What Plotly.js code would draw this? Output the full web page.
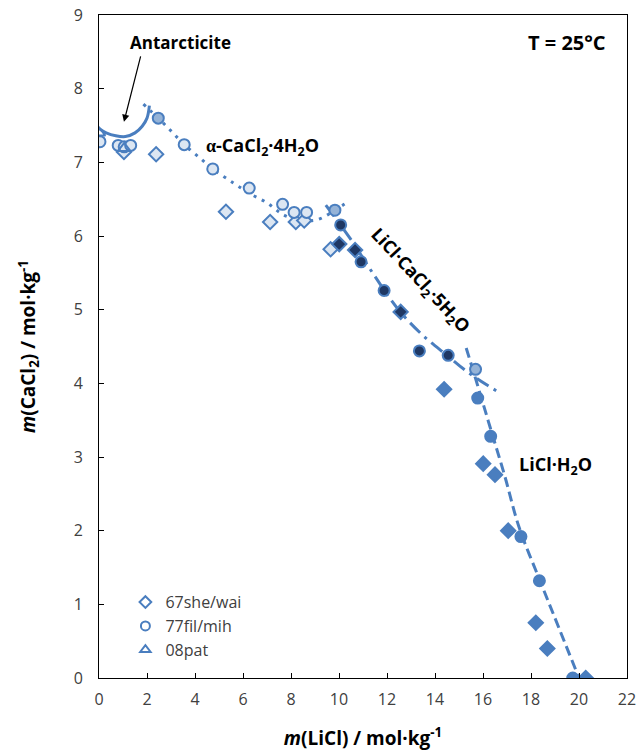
<!DOCTYPE html>
<html>
<head>
<meta charset="utf-8">
<script src="https://cdn.plot.ly/plotly-3.0.1.min.js"></script>
<style>html,body{margin:0;padding:0;background:#fff;}#chart{width:636px;height:751px;}</style>
</head>
<body>
<div id="chart"></div>
<script>
// ---- Data ----
// 67she/wai (diamonds)
const sheOpenX  = [1.04, 2.38, 5.29, 7.13, 8.2, 8.55, 9.65];
const sheOpenY  = [7.14, 7.11, 6.33, 6.19, 6.19, 6.21, 5.82];
const sheDarkX  = [10.01, 10.67, 12.57];
const sheDarkY  = [5.89, 5.81, 4.97];
const sheSolidX = [14.38, 16.01, 16.5, 17.05, 18.2, 18.68, 20.28];
const sheSolidY = [3.92, 2.91, 2.76, 2.0, 0.75, 0.40, 0.0];
// 77fil/mih (circles)
const filOpenX  = [0.04, 0.8, 1.05, 1.32, 3.55, 4.74, 6.26, 7.65, 8.13, 8.65];
const filOpenY  = [7.28, 7.23, 7.21, 7.23, 7.24, 6.91, 6.65, 6.43, 6.32, 6.32];
const filMidX   = [2.47, 9.83, 15.69];
const filMidY   = [7.60, 6.35, 4.19];
const filDarkX  = [10.07, 10.92, 11.88, 13.35, 14.55];
const filDarkY  = [6.15, 5.65, 5.26, 4.44, 4.38];
const filSolidX = [15.78, 16.32, 17.58, 18.35, 19.74];
const filSolidY = [3.80, 3.28, 1.92, 1.32, 0.0];
// 08pat (triangles)
const patX = [0.0, 1.05];
const patY = [7.40, 7.19];
// Solubility curves
const antX = [0.0, 0.3, 0.7, 1.1, 1.5, 1.8, 2.0, 2.1];
const antY = [7.46, 7.40, 7.36, 7.35, 7.40, 7.49, 7.60, 7.77];
const tetraX = [1.85, 2.47, 3.08, 3.55, 4.2, 4.74, 5.6, 6.26, 7.0, 7.67, 8.3, 9.08, 9.83, 10.4];
const tetraY = [7.79, 7.60, 7.40, 7.24, 7.06, 6.91, 6.72, 6.58, 6.45, 6.29, 6.22, 6.22, 6.35, 6.47];
const pentaX = [9.45, 10.5, 11.5, 12.5, 13.5, 14.5, 15.25, 16.15, 16.55];
const pentaY = [6.42, 5.95, 5.45, 4.99, 4.65, 4.38, 4.18, 3.98, 3.90];
const monoX = [15.3, 15.75, 16.3, 16.9, 17.5, 18.4, 19.2, 20.0];
const monoY = [4.48, 4.0, 3.4, 2.75, 2.05, 1.3, 0.65, 0.0];
// Axis ticks
const xTicks = [0, 2, 4, 6, 8, 10, 12, 14, 16, 18, 20, 22];
const yTicks = [0, 1, 2, 3, 4, 5, 6, 7, 8, 9];

// ---- Styles ----
const EDGE = '#4a7ebf';
const LIGHT = '#dce6f2';
const MID = '#95b3d7';
const DARK = '#1f3864';
const FONT = "'Open Sans', 'Noto Sans', sans-serif";

function lineTrace(x, y, dash) {
  return {x: x, y: y, mode: 'lines', type: 'scatter', showlegend: false, hoverinfo: 'skip',
          line: {color: EDGE, width: 3, dash: dash, shape: 'spline', smoothing: 1}};
}
function mk(x, y, symbol, fill, name, legend, size) {
  return {x: x, y: y, mode: 'markers', type: 'scatter', name: name, showlegend: !!legend,
          marker: {symbol: symbol, size: size || 11, color: fill,
                   line: {color: EDGE, width: 2}}};
}

const traces = [
  lineTrace(antX, antY, 'solid'),
  lineTrace(tetraX, tetraY, '3px,6px'),
  lineTrace(pentaX, pentaY, '14px,6px,3px,6px'),
  lineTrace(monoX, monoY, '10px,5px'),
  mk(sheOpenX, sheOpenY, 'diamond', LIGHT, '67she/wai', false),
  mk(sheDarkX, sheDarkY, 'diamond', DARK, '67she/wai', false),
  mk(sheSolidX, sheSolidY, 'diamond', EDGE, '67she/wai', false),
  mk(filOpenX, filOpenY, 'circle', LIGHT, '77fil/mih', false),
  mk(filMidX, filMidY, 'circle', MID, '77fil/mih', false),
  mk(filDarkX, filDarkY, 'circle', DARK, '77fil/mih', false),
  mk(filSolidX, filSolidY, 'circle', EDGE, '77fil/mih', false),
  mk(patX, patY, 'triangle-up', 'rgba(255,255,255,0)', '08pat', false),
  // legend entries
  mk([null], [null], 'diamond', '#ffffff', '67she/wai', true, 9),
  mk([null], [null], 'circle', '#ffffff', '77fil/mih', true, 9),
  mk([null], [null], 'triangle-up', '#ffffff', '08pat', true, 9)
];

const axisBase = {
  showgrid: false, zeroline: false, showline: true, linecolor: '#000', linewidth: 1,
  mirror: true, ticks: 'inside', ticklen: 5, tickcolor: '#000', tickwidth: 1,
  ticklabeloverflow: 'allow',
  tickfont: {family: FONT, size: 16, color: '#404040'}
};

const layout = {
  width: 636, height: 751,
  margin: {l: 99, r: 9, t: 15, b: 73},
  paper_bgcolor: '#fff', plot_bgcolor: '#fff',
  font: {family: FONT, color: '#000'},
  showlegend: true,
  legend: {x: 0.05, y: 0.14, xanchor: 'left', yanchor: 'top', bgcolor: 'rgba(0,0,0,0)',
           font: {family: FONT, size: 16, color: '#404040'}, tracegroupgap: 0, itemwidth: 30},
  xaxis: Object.assign({}, axisBase, {
    range: [0, 22], tickvals: xTicks, ticktext: xTicks.map(String),
    ticklabelstandoff: 7,
    title: {text: '<i>m</i>(LiCl) / mol·kg<sup>-1</sup>', standoff: 22,
            font: {family: FONT, size: 19, color: '#000', weight: 'bold'}}
  }),
  yaxis: Object.assign({}, axisBase, {
    range: [0, 9], tickvals: yTicks, ticktext: yTicks.map(String),
    ticklabelstandoff: 12,
    title: {text: '<i>m</i>(CaCl<sub>2</sub>) / mol·kg<sup>-1</sup>', standoff: 32,
            font: {family: FONT, size: 19, color: '#000', weight: 'bold'}}
  }),
  annotations: [
    {x: 1.04, y: 7.55, ax: 1.75, ay: 8.46, axref: 'x', ayref: 'y', xref: 'x', yref: 'y',
     text: '', showarrow: true, arrowhead: 2, arrowsize: 1.2, arrowwidth: 1.2, arrowcolor: '#000'},
    {x: 3.375, y: 8.63, xref: 'x', yref: 'y', showarrow: false, text: '<b>Antarcticite</b>',
     font: {family: FONT, size: 17, color: '#000'}},
    {x: 6.83, y: 7.21, xref: 'x', yref: 'y', showarrow: false,
     text: "<b><span style=\"font-family:'Liberation Serif'\">α</span>-CaCl<sub>2</sub>·4H<sub>2</sub>O</b>",
     font: {family: FONT, size: 18, color: '#000'}},
    {x: 13.375, y: 5.40, xref: 'x', yref: 'y', showarrow: false, textangle: 47,
     text: '<b>LiCl·CaCl<sub>2</sub>·5H<sub>2</sub>O</b>',
     font: {family: FONT, size: 18, color: '#000'}},
    {x: 19.0, y: 2.88, xref: 'x', yref: 'y', showarrow: false,
     text: '<b>LiCl·H<sub>2</sub>O</b>', font: {family: FONT, size: 18, color: '#000'}},
    {x: 19.5, y: 8.63, xref: 'x', yref: 'y', showarrow: false,
     text: '<b>T = 25°C</b>', font: {family: FONT, size: 20, color: '#000'}}
  ]
};

Plotly.newPlot('chart', traces, layout, {displayModeBar: false, staticPlot: true});
</script>
</body>
</html>
